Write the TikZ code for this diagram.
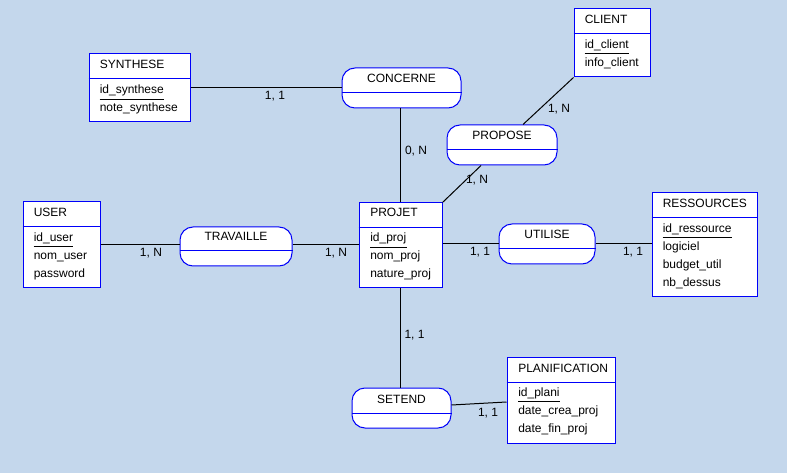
\documentclass[tikz,border=0pt]{standalone}
\usepackage{fontspec}
\setmainfont{Liberation Sans}
\usetikzlibrary{fit}
\usetikzlibrary{positioning}
\definecolor{fond}{RGB}{196,215,236}
\definecolor{bleu}{RGB}{0,0,250}
\tikzset{
    entite/.style = {rectangle, draw=bleu, line width=0.75pt, fill=white, inner sep=0pt},
    relation/.style = {rectangle, rounded corners=9.75pt, draw=bleu, line width=0.75pt, fill=white, inner sep=0pt},
    sep/.style = {-, line width=0.75pt, bleu},
    lien/.style = {-, line width=0.75pt, black},
    souligne/.style = {-, line width=0.75pt, black},
    txt/.style = {inner sep=0pt, anchor=base west, font=\fontsize{9}{11}\selectfont},
    txtc/.style = {inner sep=0pt, anchor=base, font=\fontsize{9}{11}\selectfont}
}

\begin{document}
\begin{tikzpicture}[x=0.75pt, y=-0.75pt]
\fill[fond] (0,0) rectangle (787,473);
\useasboundingbox (0,0) rectangle (787,473);
% entites
\node[entite, fit={(89,54) (190,122)}] (synthese) {};
\draw[sep] (synthese.west |- 0,79) -- (synthese.east |- 0,79);
\node[txt] at (99.5,69) (synthese-t) {SYNTHESE};
\node[txt] at (99.5,94) (synthese-a) {id\_synthese};
\node[txt] at (99.5,112) (synthese-b) {note\_synthese};
\draw[souligne] ([yshift=-4pt]synthese-a.base west) -- ([yshift=-4pt]synthese-a.base east);
%
\node[entite, fit={(574,9) (650,77)}] (client) {};
\draw[sep] (client.west |- 0,34) -- (client.east |- 0,34);
\node[txt] at (584.5,24) (client-t) {CLIENT};
\node[txt] at (584.5,48.5) (client-a) {id\_client};
\node[txt] at (584.5,66.5) (client-b) {info\_client};
\draw[souligne] ([yshift=-4pt]client-a.base west) -- ([yshift=-4pt]client-a.base east);
%
\node[entite, fit={(23,202) (100,288)}] (user) {};
\draw[sep] (user.west |- 0,227) -- (user.east |- 0,227);
\node[txt] at (33.5,217) (user-t) {USER};
\node[txt] at (33.5,241.5) (user-a) {id\_user};
\node[txt] at (33.5,259.5) (user-b) {nom\_user};
\node[txt] at (33.5,277.5) (user-c) {password};
\draw[souligne] ([yshift=-4pt]user-a.base west) -- ([yshift=-4pt]user-a.base east);
%
\node[entite, fit={(359,203) (442,288)}] (projet) {};
\draw[sep] (projet.west |- 0,227.5) -- (projet.east |- 0,227.5);
\node[txt] at (370,217) (projet-t) {PROJET};
\node[txt] at (370,242) (projet-a) {id\_proj};
\node[txt] at (370,260) (projet-b) {nom\_proj};
\node[txt] at (370,278) (projet-c) {nature\_proj};
\draw[souligne] ([yshift=-4pt]projet-a.base west) -- ([yshift=-4pt]projet-a.base east);
%
\node[entite, fit={(652,193) (757,297)}] (ressources) {};
\draw[sep] (ressources.west |- 0,218) -- (ressources.east |- 0,218);
\node[txt] at (662.5,207.5) (ressources-t) {RESSOURCES};
\node[txt] at (662.5,232.5) (ressources-a) {id\_ressource};
\node[txt] at (662.5,250.5) (ressources-b) {logiciel};
\node[txt] at (662.5,268.5) (ressources-c) {budget\_util};
\node[txt] at (662.5,286.5) (ressources-d) {nb\_dessus};
\draw[souligne] ([yshift=-4pt]ressources-a.base west) -- ([yshift=-4pt]ressources-a.base east);
%
\node[entite, fit={(507,357) (615,443)}] (planif) {};
\draw[sep] (planif.west |- 0,382) -- (planif.east |- 0,382);
\node[txt] at (518,372) (planif-t) {PLANIFICATION};
\node[txt] at (518,396.5) (planif-a) {id\_plani};
\node[txt] at (518,414.5) (planif-b) {date\_crea\_proj};
\node[txt] at (518,432.5) (planif-c) {date\_fin\_proj};
\draw[souligne] ([yshift=-4pt]planif-a.base west) -- ([yshift=-4pt]planif-a.base east);
% relations
\node[relation, fit={(342,68) (461,108)}] (concerne) {};
\draw[sep] (concerne.west |- 0,93) -- (concerne.east |- 0,93);
\node[txtc] at (401.5,83) (concerne-t) {CONCERNE};
%
\node[relation, fit={(447,125) (557,165)}] (propose) {};
\draw[sep] (propose.west |- 0,150) -- (propose.east |- 0,150);
\node[txtc] at (502,139.5) (propose-t) {PROPOSE};
%
\node[relation, fit={(180,227) (292,266)}] (travaille) {};
\draw[sep] (travaille.west |- 0,251) -- (travaille.east |- 0,251);
\node[txtc] at (236,241) (travaille-t) {TRAVAILLE};
%
\node[relation, fit={(499,224) (595,264)}] (utilise) {};
\draw[sep] (utilise.west |- 0,249) -- (utilise.east |- 0,249);
\node[txtc] at (547,238.5) (utilise-t) {UTILISE};
%
\node[relation, fit={(352,388) (451,428)}] (setend) {};
\draw[sep] (setend.west |- 0,413) -- (setend.east |- 0,413);
\node[txtc] at (401.5,403.5) (setend-t) {SETEND};
% liens
\draw[lien] (synthese.east |- 0,88) -- (concerne.west |- 0,88);
\draw[lien] (concerne.south -| projet.north) -- (projet.north);
\draw[lien] (client.south west) -- (propose.north -| 523,0);
\draw[lien] (propose.south -| 481,0) -- (projet.north east);
\draw[lien] (user.east |- 0,245) -- (travaille.west |- 0,245);
\draw[lien] (travaille.east |- 0,245) -- (projet.west |- 0,245);
\draw[lien] (projet.east |- 0,244) -- (utilise.west |- 0,244);
\draw[lien] (utilise.east |- 0,244) -- (ressources.west |- 0,244);
\draw[lien] (projet.south) -- (setend.north -| projet.south);
\draw[lien] (setend.east |- 0,405) -- (planif.west |- 0,402);
% cardinalites
\node[txtc] at (275,100) (c1) {1, 1};
\node[txtc] at (416,155) (c2) {0, N};
\node[txtc] at (559,113) (c3) {1, N};
\node[txtc] at (477,184) (c4) {1, N};
\node[txtc] at (151,256.5) (c5) {1, N};
\node[txtc] at (336,256.5) (c6) {1, N};
\node[txtc] at (480,256) (c7) {1, 1};
\node[txtc] at (633,256) (c8) {1, 1};
\node[txtc] at (414.5,338.5) (c9) {1, 1};
\node[txtc] at (488,416.5) (c10) {1, 1};
\end{tikzpicture}
\end{document}
